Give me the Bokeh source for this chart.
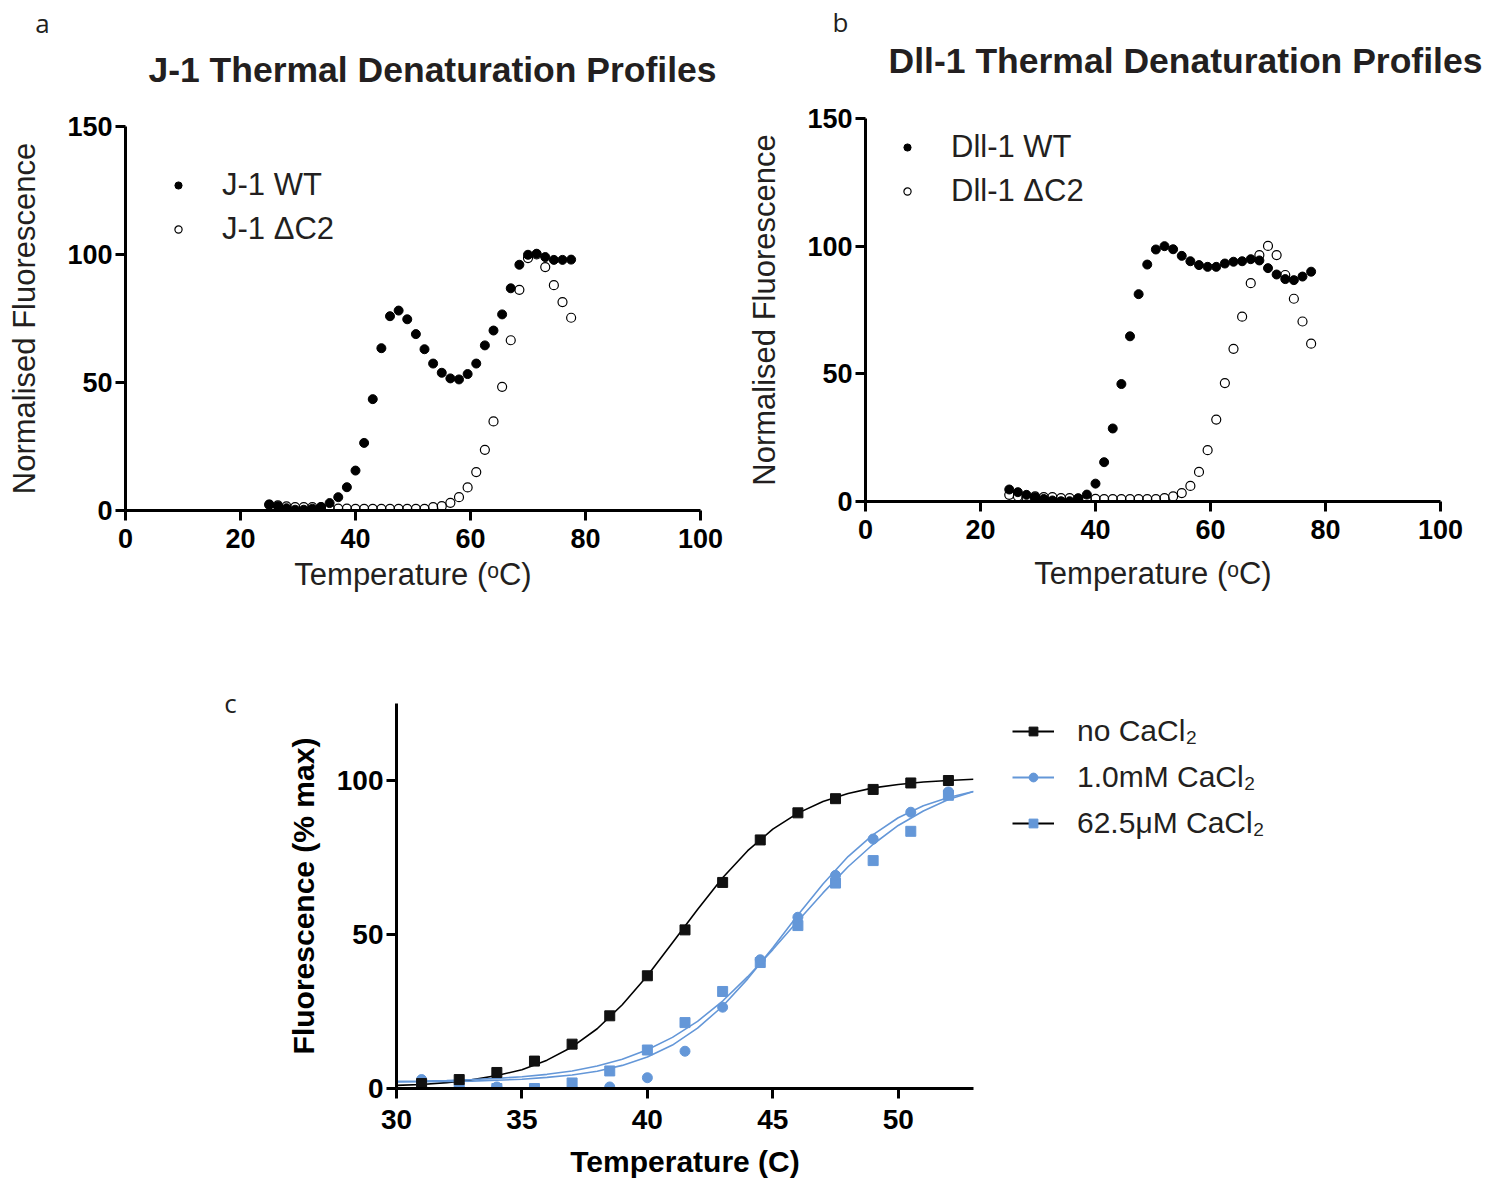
from bokeh.plotting import figure
from bokeh.layouts import column, row
from bokeh.models import Range1d, FixedTicker, Label, Legend, LegendItem, GlobalInlineStyleSheet
from bokeh.embed import file_html
from bokeh.resources import INLINE

# ---------------- data ----------------
temp_ab = [25.0, 26.5, 28.0, 29.5, 31.0, 32.5, 34.0, 35.5, 37.0, 38.5, 40.0, 41.5,
           43.0, 44.5, 46.0, 47.5, 49.0, 50.5, 52.0, 53.5, 55.0, 56.5, 58.0, 59.5,
           61.0, 62.5, 64.0, 65.5, 67.0, 68.5, 70.0, 71.5, 73.0, 74.5, 76.0, 77.5]

j1_wt = [2.3, 1.7, 0.9, 0.3, 0.3, 0.7, 1.3, 2.9, 5.2, 9.1, 15.6, 26.4,
         43.5, 63.4, 75.9, 78.1, 74.7, 68.9, 63.0, 57.4, 53.8, 51.6, 51.2, 53.3,
         57.4, 64.5, 70.3, 76.6, 86.8, 96.0, 99.9, 100.3, 99.0, 97.9, 97.9, 98.0]
j1_dc2 = [2.3, 2.0, 1.6, 1.3, 1.3, 1.3, 1.3, 0.9, 0.7, 0.7, 0.6, 0.6,
          0.6, 0.6, 0.6, 0.6, 0.6, 0.6, 0.6, 1.3, 1.7, 3.0, 5.2, 9.0,
          15.0, 23.7, 34.8, 48.3, 66.5, 86.2, 98.6, 100.0, 95.1, 88.0, 81.4, 75.3]

dll_wt = [4.7, 3.65, 2.6, 1.7, 1.0, 0.4, 0.1, 0.1, 1.3, 2.7, 7.0, 15.4,
          28.6, 46.0, 64.7, 81.2, 92.8, 98.7, 100.0, 98.8, 96.2, 94.1, 92.6, 91.9,
          91.9, 93.2, 93.9, 94.1, 94.9, 94.4, 91.4, 88.9, 87.1, 86.7, 88.1, 90.0]
dll_dc2 = [2.6, 2.1, 1.7, 2.0, 1.7, 1.7, 1.3, 1.3, 1.0, 0.65, 1.0, 0.9,
           0.9, 0.9, 0.9, 0.9, 0.9, 0.9, 1.3, 2.0, 3.3, 6.1, 11.6, 20.1,
           32.1, 46.4, 59.8, 72.4, 85.5, 96.5, 100.1, 96.5, 88.7, 79.4, 70.5, 61.8]

temp_c = [31, 32.5, 34, 35.5, 37, 38.5, 40, 41.5, 43, 44.5, 46, 47.5, 49, 50.5, 52]
no_cacl2 = [1.6, 2.9, 5.2, 8.9, 14.4, 23.6, 36.6, 51.5, 66.9, 80.7, 89.5, 94.1, 97.1, 99.2, 100.0]
cacl2_1mM = [2.9, 0.0, 0.5, 0.0, 0.0, 0.5, 3.5, 12.1, 26.4, 41.8, 55.6, 69.2, 81.0, 89.7, 96.3]
cacl2_62uM = [0.2, 0.0, 0.0, 0.0, 1.8, 5.7, 12.5, 21.4, 31.5, 40.9, 52.9, 66.7, 74.0, 83.5, 95.2]

# fitted curves
fit_temp = [30, 31, 32, 33, 34, 35, 36, 37, 38, 39, 40, 41,
            42, 43, 44, 45, 46, 47, 48, 49, 50, 51, 52, 53]
fit_no = [1.0, 1.3, 1.9, 2.8, 4.2, 6.1, 9.2, 13.5, 19.4, 27.2, 36.6, 47.3,
          58.1, 68.4, 77.2, 84.2, 89.4, 93.2, 95.8, 97.6, 98.7, 99.5, 100.0, 100.4]
fit_1mM = [2.1, 2.2, 2.3, 2.4, 2.7, 3.0, 3.6, 4.4, 5.6, 7.5, 10.2, 14.1,
           19.6, 26.7, 35.6, 45.7, 56.3, 66.4, 75.3, 82.4, 87.9, 91.8, 94.5, 96.4]
fit_62uM = [2.3, 2.4, 2.6, 2.9, 3.3, 3.8, 4.6, 5.7, 7.3, 9.5, 12.6, 16.6,
            21.8, 28.4, 36.3, 45.1, 54.4, 63.5, 72.0, 79.3, 85.4, 90.1, 93.8, 96.4]

ticks_ab_x = [0, 20, 40, 60, 80, 100]
ticks_ab_y = [0, 50, 100, 150]
ticks_c_x = [30, 35, 40, 45, 50]
ticks_c_y = [0, 50, 100]

title_a = "J-1 Thermal Denaturation Profiles"
title_b = "Dll-1 Thermal Denaturation Profiles"
legend_c = ["no CaCl₂", "1.0mM CaCl₂", "62.5μM CaCl₂"]

FONT = "Liberation Sans"
BLUE = "#6497D8"
TXT = "#231f20"
NAN = float("nan")


def blank(width, height):
    p = figure(width=width, height=height, x_range=Range1d(0, width), y_range=Range1d(height, 0),
               x_axis_type=None, y_axis_type=None, min_border=0,
               output_backend="svg", toolbar_location=None)
    p.outline_line_color = None
    p.grid.visible = False
    return p


def style(p, tick_size, label_size, label_style):
    for ax in (p.xaxis[0], p.yaxis[0]):
        ax.axis_line_width = 3
        ax.axis_line_color = "black"
        ax.major_tick_line_width = 3
        ax.major_tick_line_color = "black"
        ax.major_tick_out = 10
        ax.major_tick_in = 0
        ax.minor_tick_line_color = None
        ax.major_label_text_font = FONT
        ax.major_label_text_font_size = tick_size
        ax.major_label_text_font_style = "bold"
        ax.major_label_text_color = "black"
        ax.axis_label_text_font = FONT
        ax.axis_label_text_font_size = label_size
        ax.axis_label_text_font_style = label_style
        ax.axis_label_text_color = TXT
    p.yaxis[0].major_label_standoff = 3
    p.grid.visible = False
    p.outline_line_color = None


def make_ab(width, height, mbl, mbt, frame_h, xs, wt, dc2, name_wt, name_dc2,
            leg_loc, xlab_standoff):
    p = figure(width=width, height=height, x_range=Range1d(0, 100), y_range=Range1d(0, 150),
               output_backend="svg", toolbar_location=None,
               min_border_left=mbl, min_border_right=width - mbl - 575,
               min_border_top=mbt, min_border_bottom=height - mbt - frame_h)
    style(p, "27px", "31px", "normal")
    p.xaxis.ticker = FixedTicker(ticks=ticks_ab_x)
    p.yaxis.ticker = FixedTicker(ticks=ticks_ab_y)
    p.xaxis.axis_label = "Temperature (ᵒC)"
    p.yaxis.axis_label = "Normalised Fluorescence"
    p.xaxis.major_label_standoff = 8
    p.xaxis.axis_label_standoff = xlab_standoff
    p.yaxis.axis_label_standoff = 22
    r2 = p.scatter(xs, dc2, size=9, marker="circle", fill_color=None,
                   line_color="black", line_width=1.2)
    r1 = p.scatter(xs, wt, size=9, marker="circle", fill_color="black", line_color="black")
    leg = Legend(items=[LegendItem(label=name_wt, renderers=[r1]),
                        LegendItem(label=name_dc2, renderers=[r2])],
                 location=leg_loc, glyph_width=18, glyph_height=18,
                 label_height=40, spacing=4, padding=0, margin=0,
                 label_standoff=35, border_line_color=None,
                 background_fill_alpha=0,
                 label_text_font=FONT, label_text_font_size="31px",
                 label_text_color=TXT)
    p.add_layout(leg)
    return p


# ---------------- header (panel letters + titles) ----------------
hdr = blank(1495, 96)
hdr.add_layout(Label(x=42, y=22, text="a", text_font="Open Sans", text_font_size="26px",
                     text_color=TXT, text_align="center", text_baseline="middle"))
hdr.add_layout(Label(x=840, y=21, text="b", text_font="Open Sans", text_font_size="26px",
                     text_color=TXT, text_align="center", text_baseline="middle"))
hdr.add_layout(Label(x=432, y=69, text=title_a, text_font=FONT, text_font_size="35.5px",
                     text_font_style="bold", text_color=TXT,
                     text_align="center", text_baseline="middle"))
hdr.add_layout(Label(x=1185, y=60, text=title_b, text_font=FONT, text_font_size="35.5px",
                     text_font_style="bold", text_color=TXT,
                     text_align="center", text_baseline="middle"))

# ---------------- panels a and b ----------------
pa = make_ab(740, 509, 125, 30, 384, temp_ab, j1_wt, j1_dc2, "J-1 WT", "J-1 ΔC2",
             (44, 261), 6)
pb = make_ab(740, 509, 125, 22, 383, temp_ab, dll_wt, dll_dc2, "Dll-1 WT", "Dll-1 ΔC2",
             (33, 290), 14)

# ---------------- panel c ----------------
C_H = 586
cfig = blank(260, C_H)
cfig.add_layout(Label(x=230, y=97, text="c", text_font="Open Sans", text_font_size="26px",
                      text_color=TXT, text_align="center", text_baseline="middle"))

pc = figure(width=733, height=C_H, x_range=Range1d(30, 53), y_range=Range1d(0, 125),
            output_backend="svg", toolbar_location=None,
            min_border_left=136, min_border_right=733 - 136 - 577,
            min_border_top=98, min_border_bottom=C_H - 98 - 385)
style(pc, "28px", "30px", "bold")
pc.xaxis.ticker = FixedTicker(ticks=ticks_c_x)
pc.yaxis.ticker = FixedTicker(ticks=ticks_c_y)
pc.xaxis.axis_label = "Temperature (C)"
pc.yaxis.axis_label = "Fluorescence (% max)"
pc.xaxis.major_label_standoff = 11
pc.xaxis.axis_label_standoff = 13
pc.yaxis.axis_label_standoff = 14
pc.xaxis.axis_label_text_color = "black"
pc.yaxis.axis_label_text_color = "black"

pc.line(fit_temp, fit_no, line_color="black", line_width=1.6)
pc.line(fit_temp, fit_1mM, line_color=BLUE, line_width=1.6)
pc.line(fit_temp, fit_62uM, line_color=BLUE, line_width=1.6)
pc.scatter(temp_c, cacl2_62uM, marker="square", size=10, fill_color=BLUE, line_color=BLUE)
pc.scatter(temp_c, cacl2_1mM, marker="circle", size=10, fill_color=BLUE, line_color=BLUE)
pc.scatter(temp_c, no_cacl2, marker="square", size=10, fill_color="#111111", line_color="#111111")

# legend of panel c lives in its own blank canvas to the right of the plot;
# its renderers hold no visible data (NaN), they only provide the legend glyphs
legfig = blank(1480 - 260 - 733, C_H)
g_l0 = legfig.line([NAN], [NAN], line_color="black", line_width=2)
g_m0 = legfig.scatter([NAN], [NAN], marker="square", size=10, fill_color="#111111", line_color="#111111")
g_l1 = legfig.line([NAN], [NAN], line_color=BLUE, line_width=2)
g_m1 = legfig.scatter([NAN], [NAN], marker="circle", size=10, fill_color=BLUE, line_color=BLUE)
g_l2 = legfig.line([NAN], [NAN], line_color="black", line_width=2)
g_m2 = legfig.scatter([NAN], [NAN], marker="square", size=10, fill_color=BLUE, line_color=BLUE)
leg_c = Legend(items=[LegendItem(label=legend_c[0], renderers=[g_l0, g_m0]),
                      LegendItem(label=legend_c[1], renderers=[g_l1, g_m1]),
                      LegendItem(label=legend_c[2], renderers=[g_l2, g_m2])],
               location=(19, C_H - 106 - 132), glyph_width=42, glyph_height=22,
               label_height=40, spacing=6, padding=0, margin=0, label_standoff=23,
               border_line_color=None, background_fill_alpha=0,
               label_text_font=FONT, label_text_font_size="30px", label_text_color=TXT)
legfig.add_layout(leg_c)

layout = column(hdr, row(column(pa), column(pb)),
                row(column(cfig), column(pc), column(legfig)))
layout.stylesheets = [GlobalInlineStyleSheet(css="html, body { overflow: hidden; margin: 0; }")]
open("out.html", "w").write(file_html(layout, INLINE))
